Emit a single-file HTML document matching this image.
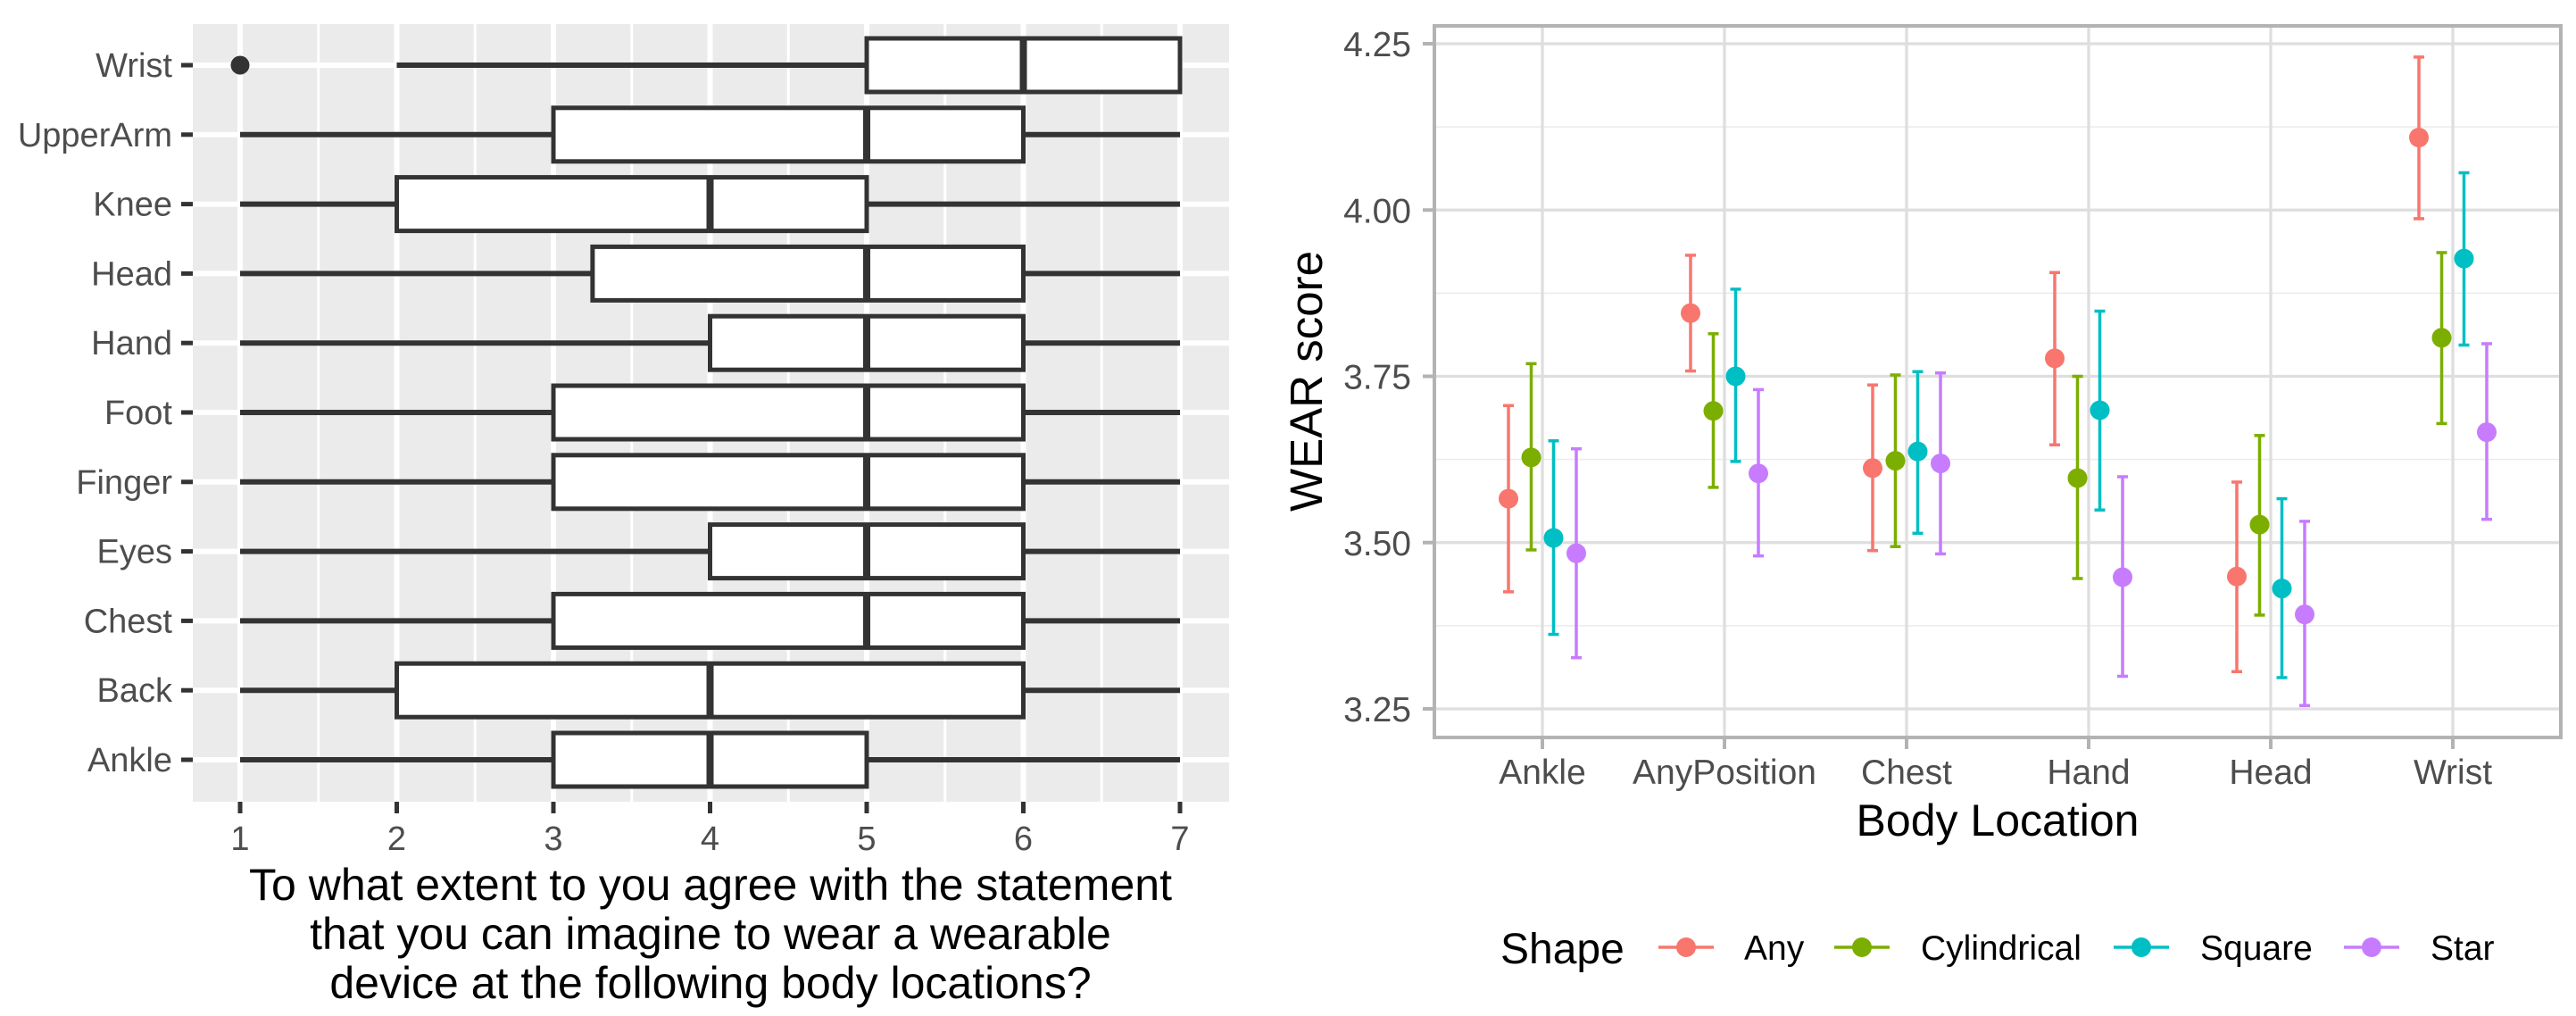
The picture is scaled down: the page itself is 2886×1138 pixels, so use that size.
<!DOCTYPE html>
<html><head><meta charset="utf-8"><style>
html,body{margin:0;padding:0;background:#fff;}
svg{display:block;font-family:"Liberation Sans",Arial,sans-serif;}
</style></head><body>
<svg id="c" width="2886" height="1138" viewBox="0 0 2886 1138" xmlns="http://www.w3.org/2000/svg"></svg>
<script>
// ---- Left chart data (boxplot) ----
const boxCats = ["Ankle","Back","Chest","Eyes","Finger","Foot","Hand","Head","Knee","UpperArm","Wrist"];
const boxMin = [1,1,1,1,1,1,1,1,1,1,2];
const boxQ1  = [3,2,3,4,3,3,4,3.25,2,3,5];
const boxMed = [4,4,5,5,5,5,5,5,4,5,6];
const boxQ3  = [5,6,6,6,6,6,6,6,5,6,7];
const boxMax = [7,7,7,7,7,7,7,7,7,7,7];
const outlierCat = ["Wrist"];
const outlierVal = [1];
const xTicksL = [1,2,3,4,5,6,7];

// ---- Right chart data (point + errorbar) ----
const locs = ["Ankle","AnyPosition","Chest","Hand","Head","Wrist"];
const shapes = ["Any","Cylindrical","Square","Star"];
const colors = ["#F8766D","#7CAE00","#00BFC4","#C77CFF"];
const meanAny   = [3.566,3.845,3.612,3.777,3.449,4.109];
const loAny     = [3.426,3.758,3.488,3.647,3.306,3.987];
const hiAny     = [3.706,3.932,3.737,3.906,3.591,4.230];
const meanCyl   = [3.628,3.698,3.623,3.597,3.527,3.808];
const loCyl     = [3.489,3.583,3.494,3.446,3.391,3.679];
const hiCyl     = [3.769,3.814,3.752,3.750,3.661,3.936];
const meanSq    = [3.507,3.750,3.637,3.699,3.431,3.927];
const loSq      = [3.362,3.622,3.514,3.549,3.297,3.797];
const hiSq      = [3.653,3.881,3.757,3.848,3.566,4.056];
const meanStar  = [3.484,3.604,3.619,3.448,3.392,3.666];
const loStar    = [3.327,3.480,3.483,3.299,3.255,3.535];
const hiStar    = [3.641,3.730,3.755,3.599,3.532,3.799];
const yTicksR = [3.25,3.50,3.75,4.00,4.25];
const yMinorR = [3.375,3.625,3.875,4.125];

const svg = document.getElementById('c');
const NS = "http://www.w3.org/2000/svg";
function mk(tag, attrs, parent){
  const e = document.createElementNS(NS, tag);
  for (const k in attrs) e.setAttribute(k, attrs[k]);
  (parent||svg).appendChild(e);
  return e;
}

// ===== LEFT =====
const L = {x0:216, x1:1377, y0:27, y1:898};
const xL = v => 269 + (v-1)*175.5;
const yL = i => 851 - i*77.8;
const gL = mk('g',{});


const bg = mk('rect',{x:L.x0,y:L.y0,width:L.x1-L.x0,height:L.y1-L.y0,fill:'#EBEBEB'},gL);


for (let v=1.5; v<7; v+=1){
  const l = mk('line',{x1:xL(v),x2:xL(v),y1:L.y0,y2:L.y1,stroke:'#fff','stroke-width':3},gL);
  
  
}
xTicksL.forEach(v=>{
  const l = mk('line',{x1:xL(v),x2:xL(v),y1:L.y0,y2:L.y1,stroke:'#fff','stroke-width':6},gL);
  
  
  const t = mk('line',{x1:xL(v),x2:xL(v),y1:L.y1,y2:L.y1+13,stroke:'#333','stroke-width':5},gL);
  
  
  const tx = mk('text',{x:xL(v),y:952,'text-anchor':'middle','font-size':38,fill:'#4D4D4D'},gL);
  tx.textContent = v;
  
  
});
boxCats.forEach((c,i)=>{
  const y = yL(i);
  const l = mk('line',{x1:L.x0,x2:L.x1,y1:y,y2:y,stroke:'#fff','stroke-width':6},gL);
  
  
  const t = mk('line',{x1:L.x0-13,x2:L.x0,y1:y,y2:y,stroke:'#333','stroke-width':5},gL);
  
  
  const tx = mk('text',{x:193,y:y+13,'text-anchor':'end','font-size':38,fill:'#4D4D4D'},gL);
  tx.textContent = c;
  
  
});
boxCats.forEach((c,i)=>{
  const y = yL(i), h=30;
  const g = mk('g',{},gL);
  
  
  mk('line',{x1:xL(boxMin[i]),x2:xL(boxQ1[i]),y1:y,y2:y,stroke:'#333','stroke-width':6},g);
  mk('line',{x1:xL(boxQ3[i]),x2:xL(boxMax[i]),y1:y,y2:y,stroke:'#333','stroke-width':6},g);
  mk('rect',{x:xL(boxQ1[i]),y:y-h,width:xL(boxQ3[i])-xL(boxQ1[i]),height:2*h,fill:'#fff',stroke:'#333','stroke-width':5},g);
  mk('line',{x1:xL(boxMed[i]),x2:xL(boxMed[i]),y1:y-h,y2:y+h,stroke:'#333','stroke-width':8},g);
});
outlierCat.forEach((c,k)=>{
  const i = boxCats.indexOf(c);
  const o = mk('circle',{cx:xL(outlierVal[k]),cy:yL(i),r:10.5,fill:'#333'},gL);
  
  
});
const xtl = mk('text',{x:796,'text-anchor':'middle','font-size':50,fill:'#000'},gL);


["To what extent to you agree with the statement","that you can imagine to wear a wearable","device at the following body locations?"].forEach((s,k)=>{
  const ts = mk('tspan',{x:796,y:1008+k*55},xtl); ts.textContent=s;
});

// ===== RIGHT =====
const R = {x0:1607, x1:2869, y0:29, y1:826};
const yR = v => 49 + (4.25-v)*745;
const xR = i => 1728 + i*204;
const dodge = [-38,-12.5,12.5,38];
const gR = mk('g',{});


yMinorR.forEach(v=>{
  const l = mk('line',{x1:R.x0,x2:R.x1,y1:yR(v),y2:yR(v),stroke:'#EBEBEB','stroke-width':1.5},gR);
  
  
});
yTicksR.forEach(v=>{
  const l = mk('line',{x1:R.x0,x2:R.x1,y1:yR(v),y2:yR(v),stroke:'#DEDEDE','stroke-width':3.3},gR);
  
  
  const t = mk('line',{x1:R.x0-13,x2:R.x0,y1:yR(v),y2:yR(v),stroke:'#B3B3B3','stroke-width':4},gR);
  
  
  const tx = mk('text',{x:1581,y:yR(v)+14,'text-anchor':'end','font-size':39,fill:'#4D4D4D'},gR);
  tx.textContent = v.toFixed(2);
  
  
});
locs.forEach((c,i)=>{
  const l = mk('line',{x1:xR(i),x2:xR(i),y1:R.y0,y2:R.y1,stroke:'#DEDEDE','stroke-width':3.3},gR);
  
  
  const t = mk('line',{x1:xR(i),x2:xR(i),y1:R.y1,y2:R.y1+13,stroke:'#B3B3B3','stroke-width':4},gR);
  
  
  const tx = mk('text',{x:xR(i),y:878,'text-anchor':'middle','font-size':39,fill:'#4D4D4D'},gR);
  tx.textContent = c;
  
  
});
const border = mk('rect',{x:R.x0,y:R.y0,width:R.x1-R.x0,height:R.y1-R.y0,fill:'none',stroke:'#B3B3B3','stroke-width':4},gR);


const means=[meanAny,meanCyl,meanSq,meanStar], los=[loAny,loCyl,loSq,loStar], his=[hiAny,hiCyl,hiSq,hiStar];
shapes.forEach((s,k)=>{
  const g = mk('g',{},gR);
  
  
  locs.forEach((c,i)=>{
    const x = xR(i)+dodge[k], col=colors[k];
    const eb = mk('g',{},g);
    
    
    mk('line',{x1:x,x2:x,y1:yR(his[k][i]),y2:yR(los[k][i]),stroke:col,'stroke-width':3.5},eb);
    mk('line',{x1:x-6,x2:x+6,y1:yR(his[k][i]),y2:yR(his[k][i]),stroke:col,'stroke-width':3.5},eb);
    mk('line',{x1:x-6,x2:x+6,y1:yR(los[k][i]),y2:yR(los[k][i]),stroke:col,'stroke-width':3.5},eb);
    const p = mk('circle',{cx:x,cy:yR(means[k][i]),r:11,fill:col},g);
    
    
  });
});
const xt = mk('text',{x:2238,y:936,'text-anchor':'middle','font-size':50,fill:'#000'},gR);
xt.textContent='Body Location';


const yt = mk('text',{x:0,y:0,'text-anchor':'middle','font-size':51,fill:'#000',transform:'translate(1481,427) rotate(-90)'},gR);
yt.textContent='WEAR score';



// legend
const lg = mk('g',{},gR);


const lt = mk('text',{x:1681,y:1079,'font-size':48,fill:'#000'},lg);
lt.textContent='Shape';


const keyX=[1889,2086,2399,2657], txtX=[1954,2152,2465,2723];
shapes.forEach((s,k)=>{
  const e = mk('g',{},lg);
  
  
  mk('line',{x1:keyX[k]-31,x2:keyX[k]+31,y1:1061,y2:1061,stroke:colors[k],'stroke-width':3.5},e);
  mk('circle',{cx:keyX[k],cy:1061,r:11,fill:colors[k]},e);
  const t = mk('text',{x:txtX[k],y:1075,'font-size':39,fill:'#000'},e);
  t.textContent=s;
});
</script>
</body></html>
